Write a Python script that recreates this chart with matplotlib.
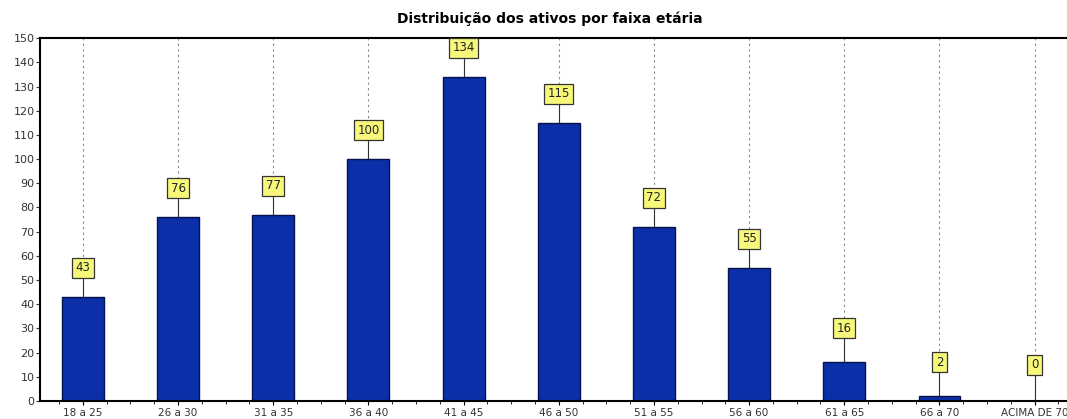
import numpy as np
from matplotlib import pyplot as plt

categories = ["18 a 25", "26 a 30", "31 a 35", "36 a 40", "41 a 45", "46 a 50",
              "51 a 55", "56 a 60", "61 a 65", "66 a 70", "ACIMA DE 70"]
values = [43, 76, 77, 100, 134, 115, 72, 55, 16, 2, 0]
yticks = list(range(0, 151, 10))

fig = plt.figure(figsize=(10.67, 4.19), dpi=100)
ax = fig.add_axes([0.0375, 0.043, 0.9625, 0.866])

x = np.arange(len(categories))

# dotted guide lines behind the bars
for xi in x:
    ax.axvline(xi, color="#888888", linestyle=(0, (2, 3)), linewidth=0.8, zorder=0)

ax.bar(x, values, width=0.44, color="#0a2fa8", edgecolor="#06124a", linewidth=1.0, zorder=2)

# value boxes with leader lines
for xi, v in zip(x, values):
    ly = v + 12 if v >= 20 else max(v + 14, 15)
    ax.plot([xi, xi], [v, ly], color="#333333", linewidth=0.8, zorder=1)
    ax.text(xi, ly, str(v), ha="center", va="center", fontsize=8.5, color="#222222", zorder=3,
            bbox=dict(boxstyle="square,pad=0.3", facecolor="#f7f77a", edgecolor="#333333", linewidth=0.9))

ax.set_xlim(-0.45, 10.34)
ax.set_ylim(0, 150)
ax.set_yticks(yticks)
ax.set_xticks(x)
ax.set_xticklabels(categories, fontsize=7.5, color="#333333")
ax.tick_params(axis="y", labelsize=8, length=3, pad=1, colors="#333333")
ax.tick_params(axis="x", length=3, pad=2)
ax.set_xticks(np.arange(-0.25, 10.4, 0.25), minor=True)
ax.tick_params(axis="x", which="minor", length=2)

for side in ["left", "bottom", "top"]:
    ax.spines[side].set_linewidth(1.5)
ax.spines["right"].set_visible(False)

fig.text(0.515, 0.955, "Distribuição dos ativos por faixa etária", ha="center", va="center",
         fontsize=10, fontweight="bold")

fig.savefig("out.png", dpi=100)
